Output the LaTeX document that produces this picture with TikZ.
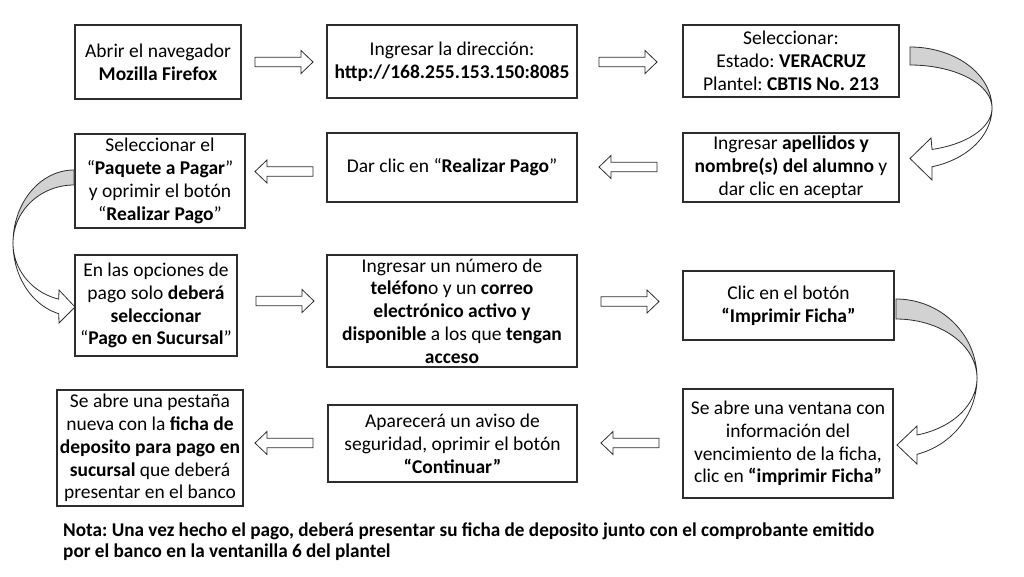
\documentclass[tikz,border=0pt]{standalone}
\usepackage{fontspec}
\setmainfont{Carlito}
\usepackage{graphicx}
\definecolor{backgray}{RGB}{210,210,210}
\definecolor{boxline}{RGB}{45,45,45}
\frenchspacing
\begin{document}
\begin{tikzpicture}[x=1pt,y=-1pt,
  box/.style={draw=boxline, line width=1.1pt, fill=white, align=center, inner sep=2pt,
    font=\fontsize{19.5}{22.8}\selectfont},
  blkline/.style={draw=boxline, fill=white, line width=0.8pt, line join=miter},
  back/.style={fill=backgray, draw=boxline, line width=0.8pt},
  front/.style={fill=white, draw=boxline, line width=0.8pt}]
\useasboundingbox (0,0) rectangle (1024,576);
\fill[white] (0,0) rectangle (1024,576);

% boxes
\node[box, minimum width=166pt, minimum height=74pt] (A) at (158,62)
  {Abrir el navegador\\\textbf{Mozilla Firefox}};
\node[box, minimum width=250pt, minimum height=73pt] (B) at (452,61.5)
  {Ingresar la dirección:\\\textbf{http://168.255.153.150:8085}};
\node[box, minimum width=216pt, minimum height=72pt] (C) at (791,61)
  {Seleccionar:\\Estado: \textbf{VERACRUZ}\\Plantel: \textbf{CBTIS No. 213}};
\node[box, minimum width=170pt, minimum height=94pt] (D) at (160,181)
  {Seleccionar el\\“\textbf{Paquete a Pagar}”\\y oprimir el botón\\“\textbf{Realizar Pago}”};
\node[box, minimum width=250pt, minimum height=69pt] (E) at (452,167.5)
  {Dar clic en “\textbf{Realizar Pago}”};
\node[box, minimum width=216pt, minimum height=69pt] (F) at (791,167.5)
  {Ingresar \textbf{apellidos y}\\\textbf{nombre(s) del alumno} y\\dar clic en aceptar};
\node[box, minimum width=162pt, minimum height=101pt] (G) at (156,305.5)
  {En las opciones de\\pago solo \textbf{deberá}\\\textbf{seleccionar}\\“\textbf{Pago en Sucursal}”};
\node[box, minimum width=250pt, minimum height=112pt] (H) at (452,311)
  {Ingresar un número de\\\textbf{teléfon}o y un \textbf{correo}\\\textbf{electrónico activo y}\\\textbf{disponible} a los que \textbf{tengan}\\\textbf{acceso}};
\node[box, minimum width=211pt, minimum height=69pt] (I) at (788.5,305.5)
  {Clic en el botón\\\textbf{“Imprimir Ficha”}};
\node[box, minimum width=186pt, minimum height=116pt] (J) at (150,448)
  {Se abre una pestaña\\nueva con la \textbf{ficha de}\\\textbf{deposito para pago en}\\\textbf{sucursal} que deberá\\presentar en el banco};
\node[box, minimum width=249pt, minimum height=77pt] (K) at (452.5,443.5)
  {Aparecerá un aviso de\\seguridad, oprimir el botón\\\textbf{“Continuar”}};
\node[box, minimum width=210pt, minimum height=109pt] (L) at (788,443.5)
  {Se abre una ventana con\\información del\\vencimiento de la ficha,\\clic en \textbf{“imprimir Ficha”}};

% straight block arrows (named at their tail ends)
\coordinate (AB) at (255,62);
\coordinate (BC) at (599,62);
\coordinate (GH) at (256,301);
\coordinate (HI) at (601,301.5);
\foreach \c in {AB,BC,GH,HI}
  \draw[blkline] (\c) ++(0,-4.7) -- ++(46,0) -- ++(0,-6.8) -- ++(12,11.5)
    -- ++(-12,11.5) -- ++(0,-6.8) -- ++(-46,0) -- cycle;
\coordinate (FE) at (657,167);
\coordinate (ED) at (313,171.5);
\coordinate (LK) at (659,443);
\coordinate (KJ) at (313,443);
\foreach \c in {FE,ED,LK,KJ}
  \draw[blkline] (\c) ++(0,-4.7) -- ++(-46,0) -- ++(0,-6.8) -- ++(-12,11.5)
    -- ++(12,11.5) -- ++(0,-6.8) -- ++(46,0) -- cycle;

% curved arrow C -> F
\path[back] plot[domain=-90:0, samples=40] ({910+82*cos(\x)},{108+61*sin(\x)})
  -- plot[domain=0:-90, samples=40] ({910+82*cos(\x)},{108+43*sin(\x)}) -- cycle;
\path[front] plot[domain=0:74.4, samples=40] ({910+82*cos(\x)},{108+43*sin(\x)})
  -- (931,138) -- (910,158.5) -- (932,180)
  -- plot[domain=74.4:0, samples=40] ({910+82*cos(\x)},{108+61*sin(\x)}) -- cycle;

% curved arrow D -> G
\path[back] plot[domain=270:180, samples=40] ({74+61*cos(\x)},{243+73*sin(\x)})
  -- plot[domain=180:270, samples=40] ({74+61*cos(\x)},{243+58*sin(\x)}) -- cycle;
\path[front] plot[domain=180:104.5, samples=40] ({74+61*cos(\x)},{243+58*sin(\x)})
  -- (59,290) -- (75,307) -- (59,323)
  -- plot[domain=104.5:180, samples=40] ({74+61*cos(\x)},{243+73*sin(\x)}) -- cycle;

% curved arrow I -> L
\path[back] plot[domain=-90:0, samples=40] ({896+81*cos(\x)},{378+79*sin(\x)})
  -- plot[domain=0:-90, samples=40] ({896+81*cos(\x)},{378+59*sin(\x)}) -- cycle;
\path[front] plot[domain=0:75, samples=40] ({896+81*cos(\x)},{378+59*sin(\x)})
  -- (917,426) -- (897,445) -- (917,464)
  -- plot[domain=75:0, samples=40] ({896+81*cos(\x)},{378+79*sin(\x)}) -- cycle;

% note
\node[anchor=north west, inner sep=0pt, font=\fontsize{19.5}{21.5}\selectfont\bfseries] (note) at (63,521)
  {\resizebox{811pt}{\height}{\begin{tabular}{@{}l@{}}Nota: Una vez hecho el pago, deberá presentar su ficha de deposito junto con el comprobante emitido\\por el banco en la ventanilla 6 del plantel\end{tabular}}};
\end{tikzpicture}
\end{document}
